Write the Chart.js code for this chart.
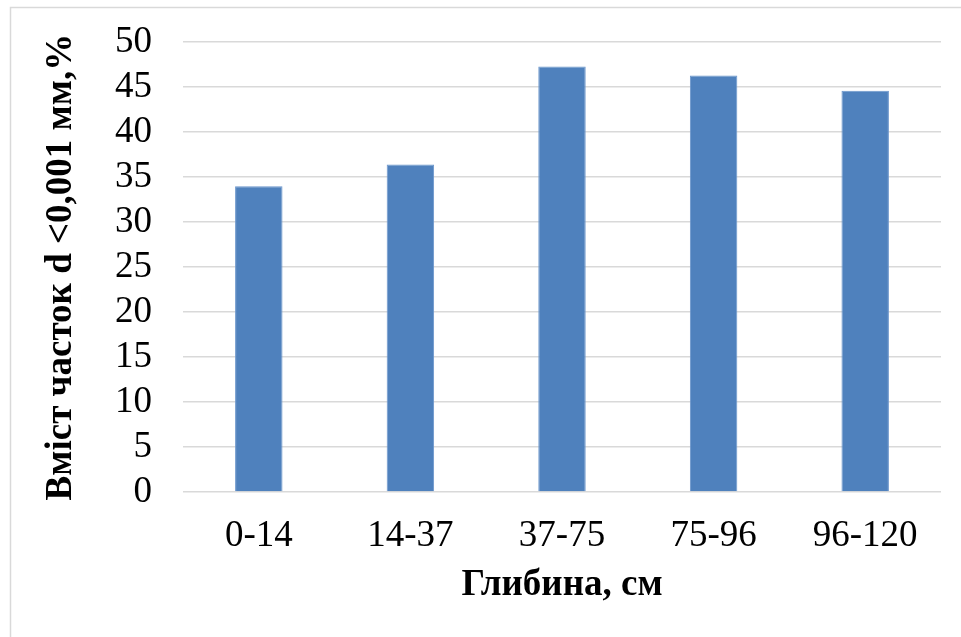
<!DOCTYPE html>
<html>
<head>
<meta charset="utf-8">
<script src="https://cdn.jsdelivr.net/npm/chart.js@4"></script>
<style>
  html, body { margin: 0; padding: 0; background: #fff; }
  #wrap { width: 961px; height: 637px; position: relative; }
</style>
</head>
<body>
<div id="wrap"><canvas id="myChart"></canvas></div>
<script>
const depths = ['0-14', '14-37', '37-75', '75-96', '96-120'];
const clayContent = [34.0, 36.4, 47.3, 46.3, 44.6];
const yTicks = [0, 5, 10, 15, 20, 25, 30, 35, 40, 45, 50];

const serif = "'Liberation Serif', 'Times New Roman', serif";

// light frame on the left and top edge, like the cropped Excel chart
const framePlugin = {
    id: 'frame',
    beforeDraw(chart) {
        const c = chart.ctx;
        c.save();
        c.fillStyle = '#fff';
        c.fillRect(0, 0, chart.width, chart.height);
        c.strokeStyle = '#d9d9d9';
        c.lineWidth = 1.5;
        c.beginPath();
        c.moveTo(10.5, chart.height);
        c.lineTo(10.5, 7.5);
        c.lineTo(chart.width, 7.5);
        c.stroke();
        c.restore();
    }
};

const ctx = document.getElementById('myChart');
new Chart(ctx, {
    type: 'bar',
    data: {
        labels: depths,
        datasets: [{
            label: 'Вміст часток',
            data: clayContent,
            backgroundColor: '#4f81bd',
            borderColor: '#6b96cc',
            borderWidth: 1,
            categoryPercentage: 1,
            barPercentage: 0.313
        }]
    },
    options: {
        responsive: true,
        maintainAspectRatio: false,
        animation: false,
        layout: { padding: { top: 0, right: 20, bottom: 0, left: 0 } },
        plugins: {
            legend: { display: false },
            tooltip: { enabled: false }
        },
        scales: {
            x: {
                grid: { display: false, drawTicks: false },
                border: { display: false },
                ticks: {
                    color: '#000',
                    padding: 22,
                    font: { family: serif, size: 37 }
                },
                title: {
                    display: true,
                    text: 'Глибина, см',
                    color: '#000',
                    padding: { top: 0, bottom: 29 },
                    font: { family: serif, size: 37, weight: 'bold' }
                },
                afterFit(scale) { scale.height = 637 - 492; }
            },
            y: {
                min: 0,
                max: 50,
                afterBuildTicks(scale) {
                    scale.ticks = yTicks.map(v => ({ value: v }));
                },
                // invisible tick marks push the labels left without adding top overflow
                grid: {
                    color: '#d9d9d9',
                    lineWidth: 1.5,
                    drawTicks: true,
                    tickLength: 11,
                    tickColor: 'rgba(0,0,0,0)'
                },
                border: { display: false },
                ticks: {
                    color: '#000',
                    padding: 20,
                    autoSkip: false,
                    font: { family: serif, size: 37 }
                },
                title: {
                    display: true,
                    text: 'Вміст часток d <0,001 мм,%',
                    color: '#000',
                    padding: { top: 39, bottom: 0 },
                    font: { family: serif, size: 37, weight: 'bold' }
                },
                afterFit(scale) { scale.width = 183; }
            }
        }
    },
    plugins: [framePlugin]
});
</script>
</body>
</html>
